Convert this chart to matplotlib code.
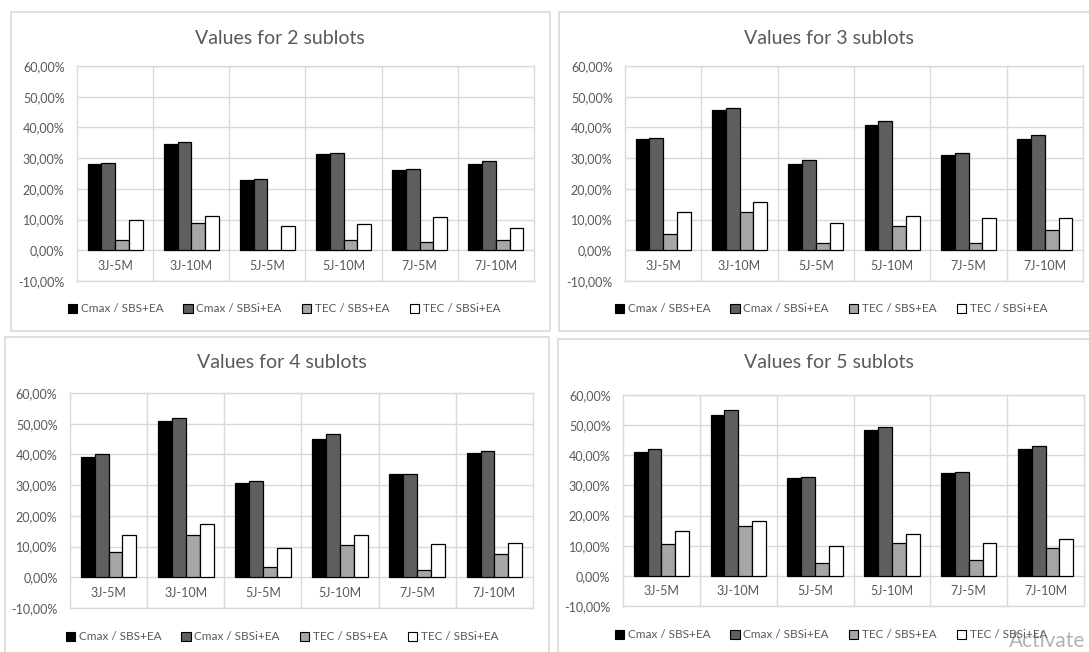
import matplotlib
matplotlib.use("Agg")
import matplotlib.pyplot as plt
import numpy as np
from matplotlib.patches import Rectangle, Patch
from matplotlib.ticker import FuncFormatter, MultipleLocator

plt.rcParams["font.family"] = ["Lato", "DejaVu Sans"]

categories = ["3J-5M", "3J-10M", "5J-5M", "5J-10M", "7J-5M", "7J-10M"]
series_names = ["Cmax / SBS+EA", "Cmax / SBSi+EA", "TEC / SBS+EA", "TEC / SBSi+EA"]
panel_titles = ["Values for 2 sublots", "Values for 3 sublots",
                "Values for 4 sublots", "Values for 5 sublots"]

# values in percent, one list per series
sub2_cmax_sbs = [28.2, 34.5, 22.8, 31.5, 26.0, 28.0]
sub2_cmax_sbsi = [28.4, 35.2, 23.3, 31.8, 26.6, 29.2]
sub2_tec_sbs = [3.2, 8.8, 0.0, 3.2, 2.8, 3.4]
sub2_tec_sbsi = [9.7, 11.3, 8.0, 8.5, 11.0, 7.2]

sub3_cmax_sbs = [36.2, 45.6, 28.2, 40.8, 31.1, 36.2]
sub3_cmax_sbsi = [36.5, 46.3, 29.3, 42.0, 31.8, 37.4]
sub3_tec_sbs = [5.4, 12.6, 2.5, 8.0, 2.5, 6.7]
sub3_tec_sbsi = [12.6, 15.6, 8.9, 11.3, 10.5, 10.5]

sub4_cmax_sbs = [39.3, 51.0, 30.8, 45.1, 33.7, 40.4]
sub4_cmax_sbsi = [40.0, 51.8, 31.4, 46.7, 33.5, 41.2]
sub4_tec_sbs = [8.3, 13.8, 3.2, 10.4, 2.3, 7.5]
sub4_tec_sbsi = [13.8, 17.5, 9.6, 13.8, 10.8, 11.3]

sub5_cmax_sbs = [41.0, 53.5, 32.3, 48.5, 34.1, 42.2]
sub5_cmax_sbsi = [42.2, 55.1, 32.7, 49.5, 34.5, 43.0]
sub5_tec_sbs = [10.5, 16.5, 4.4, 11.0, 5.3, 9.2]
sub5_tec_sbsi = [14.9, 18.3, 9.8, 14.0, 11.0, 12.2]

panels = [
    [sub2_cmax_sbs, sub2_cmax_sbsi, sub2_tec_sbs, sub2_tec_sbsi],
    [sub3_cmax_sbs, sub3_cmax_sbsi, sub3_tec_sbs, sub3_tec_sbsi],
    [sub4_cmax_sbs, sub4_cmax_sbsi, sub4_tec_sbs, sub4_tec_sbsi],
    [sub5_cmax_sbs, sub5_cmax_sbsi, sub5_tec_sbs, sub5_tec_sbsi],
]

W, H = 1089, 652
colors = ["#000000", "#5f5f5f", "#a6a6a6", "#ffffff"]
grid_c = "#d9d9d9"
text_c = "#595959"

# pixel layout: plot area (x0, ytop, x1, ybottom), chart frame, title centre, legend centre
plot_boxes = [(77, 66, 534, 281), (625, 66, 1083, 281),
              (70, 393, 533, 608), (623, 395, 1084, 606)]
frames = [(11, 12, 550, 331), (559, 12, 1100, 331),
          (5, 337, 549, 670), (558, 339, 1100, 670)]
title_pos = [(280, 38), (829, 38), (282, 362), (829, 362)]
legend_pos = [(284, 309), (831, 309), (282, 637), (831, 635)]

fig = plt.figure(figsize=(W / 100, H / 100), dpi=100)


def fx(x):
    return x / W


def fy(y):
    return 1 - y / H


for (x0, y0, x1, y1) in frames:
    fig.add_artist(Rectangle((fx(x0), fy(y1)), fx(x1) - fx(x0), fy(y0) - fy(y1),
                             transform=fig.transFigure, fill=False,
                             edgecolor=grid_c, linewidth=1.2))

x = np.arange(len(categories))
bw = 0.18
for k, series in enumerate(panels):
    x0, y0, x1, y1 = plot_boxes[k]
    ax = fig.add_axes([fx(x0), fy(y1), fx(x1) - fx(x0), fy(y0) - fy(y1)])
    ax.set_axisbelow(True)
    for j, vals in enumerate(series):
        ax.bar(x + (j - 1.5) * bw, vals, width=bw, color=colors[j],
               edgecolor="black", linewidth=0.9, zorder=3)
    ax.set_xlim(-0.5, len(categories) - 0.5)
    ax.set_ylim(-10, 60)
    ax.yaxis.set_major_locator(MultipleLocator(10))
    ax.yaxis.set_major_formatter(FuncFormatter(lambda v, p: f"{v:.2f}%".replace(".", ",")))
    ax.grid(axis="y", color=grid_c, linewidth=1)
    for b in np.arange(0.5, len(categories) - 0.5, 1):
        ax.axvline(b, color=grid_c, linewidth=1, zorder=1)
    ax.set_xticks([])
    ax.tick_params(axis="y", length=0, pad=9, labelsize=9, labelcolor=text_c)
    for s in ax.spines.values():
        s.set_color(grid_c)
        s.set_linewidth(1)
    for i, c in enumerate(categories):
        ax.text(i, -5, c, ha="center", va="center", fontsize=9, color=text_c)

    tx, ty = title_pos[k]
    fig.text(fx(tx), fy(ty), panel_titles[k], ha="center", va="center",
             fontsize=14, color=text_c)

    handles = [Patch(facecolor=colors[j], edgecolor="black", linewidth=0.8)
               for j in range(4)]
    lx, ly = legend_pos[k]
    fig.legend(handles, series_names, loc="center", bbox_to_anchor=(fx(lx), fy(ly)),
               ncol=4, frameon=False, fontsize=8.5, labelcolor=text_c,
               handlelength=0.8, handleheight=0.8, handletextpad=0.3,
               columnspacing=1.7)

# screenshot watermark visible in the reference
fig.text(fx(1085), fy(651), "Activate", ha="right", va="bottom", fontsize=15,
         color="#a0a0a0", alpha=0.8)

fig.savefig("out.png", dpi=100)
